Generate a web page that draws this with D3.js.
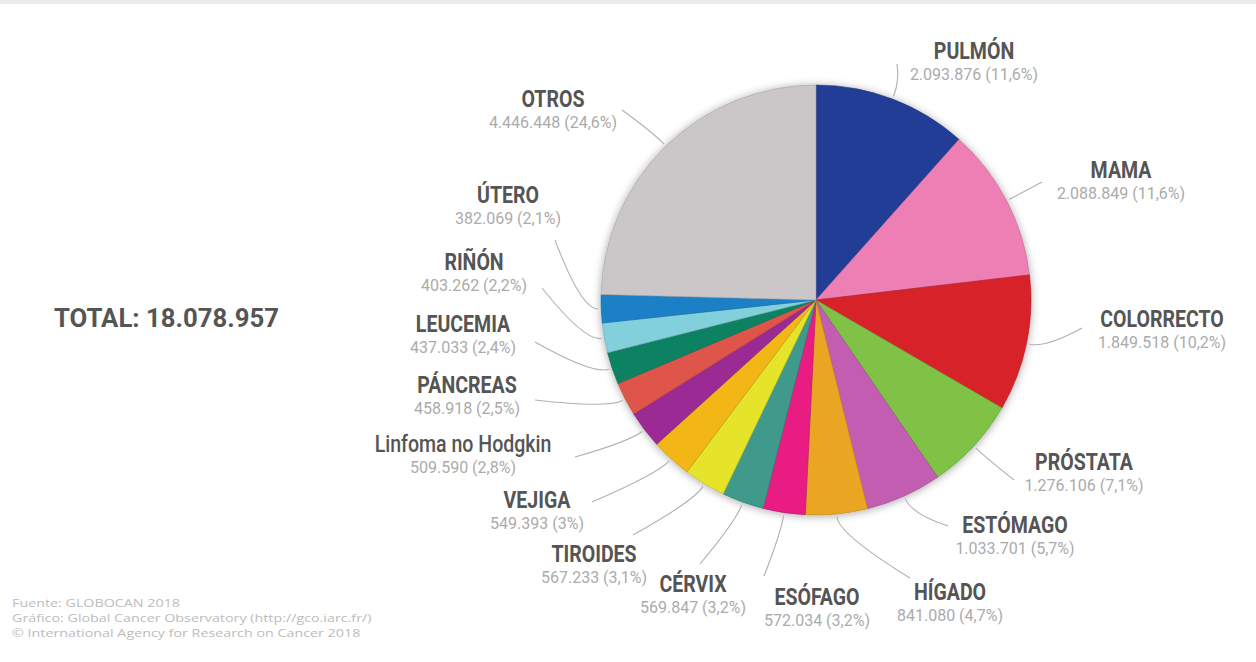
<!DOCTYPE html>
<html>
<head>
<meta charset="utf-8">
<script src="https://cdn.jsdelivr.net/npm/d3@7"></script>
<style>
  body { margin: 0; background: #fff; }
  svg { display: block; }
  .name { font-family: Roboto, sans-serif; font-weight: bold; fill: #555; }
  .val { font-family: Roboto, sans-serif; fill: #ababab; }
  .leader { fill: none; stroke: #b0b0b0; stroke-width: 1.1; }
  .src { font-family: "Open Sans", sans-serif; fill: #bcbcbc; }
</style>
</head>
<body>
<svg width="1256" height="662"></svg>
<script>
var categories = ["PULMÓN", "MAMA", "COLORRECTO", "PRÓSTATA", "ESTÓMAGO", "HÍGADO", "ESÓFAGO", "CÉRVIX",
    "TIROIDES", "VEJIGA", "Linfoma no Hodgkin", "PÁNCREAS", "LEUCEMIA", "RIÑÓN", "ÚTERO", "OTROS"];
var cases = [2093876, 2088849, 1849518, 1276106, 1033701, 841080, 572034, 569847,
    567233, 549393, 509590, 458918, 437033, 403262, 382069, 4446448];
var percentLabels = ["11,6%", "11,6%", "10,2%", "7,1%", "5,7%", "4,7%", "3,2%", "3,2%",
    "3,1%", "3%", "2,8%", "2,5%", "2,4%", "2,2%", "2,1%", "24,6%"];
var colors = ["#233c96", "#ee7fb5", "#d7222a", "#7fc244", "#c25db2", "#eaa624", "#e81c82", "#3f9a8c",
    "#e5e42a", "#f2b619", "#9b2a94", "#e0544a", "#108262", "#82d0dc", "#1c80c6", "#cbc7c9"];
var totalLabel = "TOTAL: 18.078.957";
var sourceLines = ["Fuente: GLOBOCAN 2018",
    "Gráfico: Global Cancer Observatory (http://gco.iarc.fr/)",
    "© International Agency for Research on Cancer 2018"];

// label placement (name centre x, name baseline y, leader end point)
var labelLayout = {
    "PULMÓN":   { x: 974,  y: 59,  ex: 897,  ey: 64 },
    "MAMA":     { x: 1121, y: 178, ex: 1042, ey: 182 },
    "COLORRECTO": { x: 1162, y: 327, ex: 1082, ey: 328 },
    "PRÓSTATA": { x: 1084, y: 470, ex: 1014, ey: 480 },
    "ESTÓMAGO": { x: 1015, y: 533, ex: 948,  ey: 526 },
    "HÍGADO":   { x: 950,  y: 600, ex: 910,  ey: 578 },
    "ESÓFAGO":  { x: 817,  y: 605, ex: 764,  ey: 576 },
    "CÉRVIX":   { x: 693,  y: 592, ex: 700,  ey: 564 },
    "TIROIDES": { x: 594,  y: 562, ex: 633,  ey: 535 },
    "VEJIGA":   { x: 537,  y: 508, ex: 592,  ey: 502 },
    "Linfoma no Hodgkin": { x: 463, y: 452, ex: 575, ey: 457 },
    "PÁNCREAS": { x: 467,  y: 393, ex: 535,  ey: 400 },
    "LEUCEMIA": { x: 463,  y: 332, ex: 535,  ey: 342 },
    "RIÑÓN":    { x: 474,  y: 270, ex: 542,  ey: 288 },
    "ÚTERO":    { x: 508,  y: 203, ex: 555,  ey: 240 },
    "OTROS":    { x: 553,  y: 107, ex: 622,  ey: 110 }
};

var cx = 816, cy = 300, radius = 215;
var fmt = d3.formatLocale({ decimal: ",", thousands: ".", grouping: [3] }).format(",d");

var svg = d3.select("svg");

svg.append("rect").attr("x", 0).attr("y", 0).attr("width", 1256).attr("height", 4).attr("fill", "#ececec");

var defs = svg.append("defs");
var f = defs.append("filter").attr("id", "shadow").attr("x", "-10%").attr("y", "-10%").attr("width", "120%").attr("height", "120%");
f.append("feDropShadow").attr("dx", 0).attr("dy", 1).attr("stdDeviation", 4)
    .attr("flood-color", "#000").attr("flood-opacity", 0.35);

var data = categories.map(function(c, i) {
    return { name: c, value: cases[i], pct: percentLabels[i], color: colors[i] };
});

var pie = d3.pie().sort(null).value(function(d) { return d.value; });
var arc = d3.arc().innerRadius(0).outerRadius(radius);
var arcs = pie(data);

var g = svg.append("g").attr("transform", "translate(" + cx + "," + cy + ")");

g.append("g").attr("filter", "url(#shadow)")
    .selectAll("path")
    .data(arcs)
    .enter().append("path")
    .attr("d", arc)
    .attr("fill", function(d) { return d.data.color; })
    .attr("stroke", function(d) { return d3.color(d.data.color).darker(0.6); })
    .attr("stroke-width", 0.6);

// leaders
arcs.forEach(function(d) {
    var L = labelLayout[d.data.name];
    var a = (d.startAngle + d.endAngle) / 2;
    var p0 = [cx + (radius + 3) * Math.sin(a), cy - (radius + 3) * Math.cos(a)];
    var p1 = [cx + (radius + 20) * Math.sin(a), cy - (radius + 20) * Math.cos(a)];
    svg.append("path")
        .attr("class", "leader")
        .attr("d", "M" + p0 + "Q" + p1 + " " + L.ex + "," + L.ey);
});

// labels
arcs.forEach(function(d) {
    var L = labelLayout[d.data.name];
    var isLower = d.data.name === "Linfoma no Hodgkin";
    svg.append("text")
        .attr("class", "name")
        .attr("transform", "translate(" + L.x + "," + L.y + ") scale(0.85,1)")
        .attr("text-anchor", "middle")
        .style("font-size", "23px")
        .style("font-weight", isLower ? "500" : "bold")
        .text(d.data.name);
    svg.append("text")
        .attr("class", "val")
        .attr("x", L.x).attr("y", L.y + 21)
        .attr("text-anchor", "middle")
        .style("font-size", "16px")
        .text(fmt(d.data.value) + " (" + d.data.pct + ")");
});

svg.append("text")
    .attr("class", "name")
    .attr("transform", "translate(54,327) scale(1.03,1)")
    .style("font-size", "25px")
    .text(totalLabel);

svg.selectAll(".src")
    .data(sourceLines)
    .enter().append("text")
    .attr("class", "src")
    .attr("transform", function(d, i) { return "translate(12," + (607 + i * 15) + ") scale(1.3,1)"; })
    .style("font-size", "11px")
    .text(function(d) { return d; });
</script>
</body>
</html>
